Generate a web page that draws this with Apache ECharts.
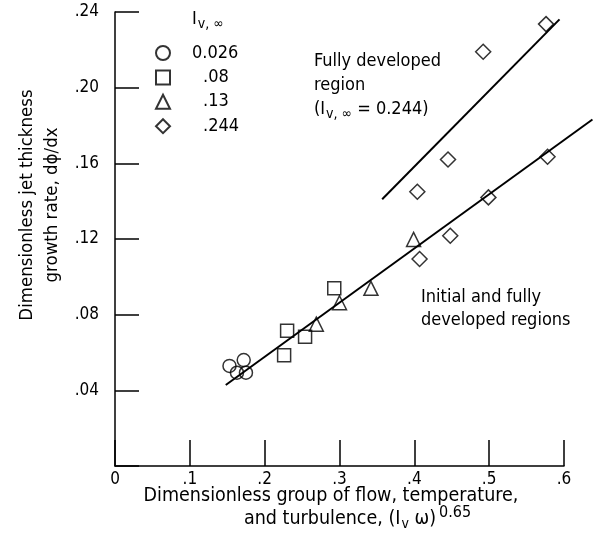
<!DOCTYPE html>
<html>
<head>
<meta charset="utf-8">
<script src="https://cdn.jsdelivr.net/npm/echarts@6/dist/echarts.min.js"></script>
<style>
html,body{margin:0;padding:0;background:#fff;}
#chart{width:606px;height:542px;}
</style>
</head>
<body>
<div id="chart"></div>
<script>
// ---- data ----
const seriesNames = ['0.026', '.08', '.13', '.244'];
const circles   = [[0.153, 0.0529], [0.172, 0.0560], [0.163, 0.0493], [0.175, 0.0493]];
const squares   = [[0.226, 0.0585], [0.230, 0.0715], [0.254, 0.0683], [0.293, 0.0939]];
const triangles = [[0.269, 0.0750], [0.300, 0.0863], [0.342, 0.0939], [0.399, 0.1198]];
const diamonds  = [[0.404, 0.1450], [0.407, 0.1094], [0.445, 0.1620], [0.448, 0.1217],
                   [0.499, 0.1420], [0.492, 0.2190], [0.578, 0.1635], [0.576, 0.2336]];
const lowerFit  = [[0.148, 0.0428], [0.638, 0.1832]];
const upperFit  = [[0.357, 0.1410], [0.594, 0.2361]];
const xTickLabels = ['0', '.1', '.2', '.3', '.4', '.5', '.6'];
const yTickLabels = ['', '.04', '.08', '.12', '.16', '.20', '.24'];

const FONT = '"Liberation Sans Narrow", "DejaVu Sans Condensed", sans-serif';
const W = 606, GL = 115, GR = 42, GR2 = 8, GT = 12, GB = 76;
const XMAX = 0.6;
// wider, hidden grid with identical scale so the fitted line can run past .6
const XMAX2 = XMAX * (W - GR2 - GL) / (W - GR - GL);

const chart = echarts.init(document.getElementById('chart'), null, {renderer: 'canvas'});

const symStyle = {color: 'rgba(255,255,255,0)', borderColor: '#000', borderWidth: 1.5};
function scatter(name, data, symbol, size) {
  return {
    name: name, type: 'scatter', data: data, symbol: symbol, symbolSize: size,
    itemStyle: symStyle, z: 3, silent: true
  };
}
function fit(data) {
  return {
    type: 'line', data: data, symbol: 'none', silent: true,
    xAxisIndex: 1, yAxisIndex: 1,
    lineStyle: {color: '#000', width: 2}, z: 2
  };
}

chart.setOption({
  animation: false,
  backgroundColor: '#fff',
  textStyle: {fontFamily: FONT, color: '#000'},
  grid: [
    {left: GL, right: GR, top: GT, bottom: GB},
    {left: GL, right: GR2, top: GT, bottom: GB}
  ],
  xAxis: [{
    type: 'value', min: 0, max: XMAX, interval: 0.1,
    axisLine: {onZero: false, lineStyle: {color: '#000', width: 1.5}},
    axisTick: {inside: true, length: 26, lineStyle: {color: '#000', width: 1.5}},
    splitLine: {show: false},
    axisLabel: {
      margin: 5, fontSize: 17, color: '#000', fontFamily: FONT,
      formatter: function (v) { return xTickLabels[Math.round(v * 10)]; }
    }
  }, {
    type: 'value', gridIndex: 1, min: 0, max: XMAX2, show: false
  }],
  yAxis: [{
    type: 'value', min: 0, max: 0.24, interval: 0.04,
    axisLine: {onZero: false, lineStyle: {color: '#000', width: 1.5}},
    axisTick: {inside: true, length: 24, lineStyle: {color: '#000', width: 1.5}},
    splitLine: {show: false},
    axisLabel: {
      margin: 16, fontSize: 17, color: '#000', fontFamily: FONT,
      formatter: function (v) { return yTickLabels[Math.round(v / 0.04)]; }
    }
  }, {
    type: 'value', gridIndex: 1, min: 0, max: 0.24, show: false
  }],
  legend: {
    orient: 'vertical', left: 155, top: 44, padding: 0, itemGap: 6.4,
    itemWidth: 14, itemHeight: 14, itemTextGap: 5,
    selectedMode: false,
    data: [
      {name: seriesNames[0], icon: 'circle'},
      {name: seriesNames[1], icon: 'rect'},
      {name: seriesNames[2], icon: 'triangle'},
      {name: seriesNames[3], icon: 'diamond'}
    ],
    formatter: function (name) {
      const p = name.indexOf('.');
      const ip = name.slice(0, p);
      return (ip ? '{i|' + ip + '}' : '{s| }') + '{d|' + name.slice(p) + '}';
    },
    textStyle: {
      fontFamily: FONT, fontSize: 18, color: '#000', lineHeight: 18,
      rich: {
        i: {padding: [0, 0, 0, 17], fontFamily: FONT, fontSize: 18, lineHeight: 18, color: '#000'},
        s: {width: 28, fontFamily: FONT, fontSize: 18, lineHeight: 18, color: '#000'},
        d: {fontFamily: FONT, fontSize: 18, lineHeight: 18, color: '#000'}
      }
    }
  },
  series: [
    scatter(seriesNames[0], circles, 'circle', 13),
    scatter(seriesNames[1], squares, 'rect', 13),
    scatter(seriesNames[2], triangles, 'triangle', 14),
    scatter(seriesNames[3], diamonds, 'diamond', 15),
    fit(lowerFit),
    fit(upperFit)
  ],
  graphic: [
    { // legend header I_{v,inf}
      type: 'text', left: 192, top: 10,
      style: {
        text: '{a|I}{s|v, ∞}', fill: '#000',
        rich: {
          a: {fontFamily: FONT, fontSize: 18, fill: '#000'},
          s: {fontFamily: FONT, fontSize: 14, fill: '#000', padding: [10, 0, 0, 1]}
        }
      }
    },
    {
      type: 'text', left: 314, top: 49,
      style: {
        text: 'Fully developed\nregion\n{a|(I}{s|v, ∞}{a| = 0.244)}',
        fill: '#000', font: '18px ' + FONT, lineHeight: 24,
        rich: {
          a: {fontFamily: FONT, fontSize: 18, fill: '#000'},
          s: {fontFamily: FONT, fontSize: 14, fill: '#000', padding: [10, 0, 0, 1]}
        }
      }
    },
    {
      type: 'text', left: 421, top: 286,
      style: {
        text: 'Initial and fully\ndeveloped regions',
        fill: '#000', font: '18px ' + FONT, lineHeight: 23
      }
    },
    { // y axis title
      type: 'text', x: 15, y: 205, rotation: Math.PI / 2,
      style: {
        text: 'Dimensionless jet thickness\ngrowth rate, dϕ/dx',
        fill: '#000', font: '18.5px ' + FONT, lineHeight: 25,
        align: 'center', verticalAlign: 'top'
      }
    },
    { // x axis title line 1
      type: 'text', x: 331, y: 486,
      style: {
        text: 'Dimensionless group of flow, temperature,',
        fill: '#000', font: '19.5px ' + FONT, align: 'center', verticalAlign: 'top'
      }
    },
    { // x axis title line 2
      type: 'text', x: 244, y: 505,
      style: {
        text: '{a|and turbulence, (I}{s|v}{a| ω)}{p|0.65}',
        fill: '#000', align: 'left', verticalAlign: 'top',
        rich: {
          a: {fontFamily: FONT, fontSize: 19.5, fill: '#000'},
          s: {fontFamily: FONT, fontSize: 14, fill: '#000', padding: [10, 0, 0, 1]},
          p: {fontFamily: FONT, fontSize: 16, fill: '#000', padding: [0, 0, 12, 3]}
        }
      }
    }
  ]
});
</script>
</body>
</html>
